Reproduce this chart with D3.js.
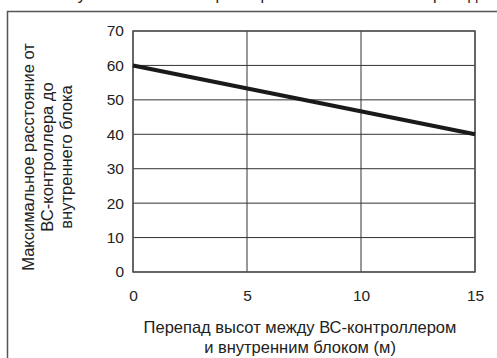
<!DOCTYPE html>
<html>
<head>
<meta charset="utf-8">
<script src="https://cdn.jsdelivr.net/npm/d3@7"></script>
<style>
  body { margin: 0; background: #fff; }
  svg text { font-family: "Liberation Sans", Arial, sans-serif; fill: #222; }
</style>
</head>
<body>
<div id="chart"></div>
<script>
var heightDiff = [0, 15];
var maxDistance = [60, 40];
var xTicks = [0, 5, 10, 15];
var yTicks = [0, 10, 20, 30, 40, 50, 60, 70];
var xTitle = ["Перепад высот между ВС-контроллером", "и внутренним блоком (м)"];
var yTitle = ["Максимальное расстояние от", "ВС-контроллера до", "внутреннего блока"];
var topTitle = "Ограничение по установке ВС-контроллера в зависимости от перепада высоты";

var W = 497, H = 358;
var margin = { top: 31, right: 22, bottom: 86, left: 133 },
  width = W - margin.left - margin.right,
  height = H - margin.top - margin.bottom;

var x = d3.scaleLinear().domain([0, 15]).range([0, width]);
var y = d3.scaleLinear().domain([0, 70]).range([height, 0]);

var svg = d3.select("#chart").append("svg")
  .attr("width", W)
  .attr("height", H);

// title line above the frame, only its lower edge is in view
svg.append("text")
  .attr("x", 250)
  .attr("y", 0)
  .attr("text-anchor", "middle")
  .style("font-size", "16px")
  .text(topTitle);

// outer frame, runs off the right and bottom edge
svg.append("rect")
  .attr("x", 7.5)
  .attr("y", 11.5)
  .attr("width", 520)
  .attr("height", 380)
  .attr("fill", "none")
  .attr("stroke", "#555")
  .attr("stroke-width", 1.5);

var g = svg.append("g")
  .attr("transform", "translate(" + margin.left + "," + margin.top + ")");

// grid
g.selectAll(".hgrid")
  .data(yTicks)
  .enter().append("line")
  .attr("x1", 0).attr("x2", width)
  .attr("y1", function (d) { return y(d); })
  .attr("y2", function (d) { return y(d); })
  .attr("stroke", "#333").attr("stroke-width", 1);

g.selectAll(".vgrid")
  .data(xTicks)
  .enter().append("line")
  .attr("y1", 0).attr("y2", height)
  .attr("x1", function (d) { return x(d); })
  .attr("x2", function (d) { return x(d); })
  .attr("stroke", "#333").attr("stroke-width", 1);

g.append("rect")
  .attr("width", width).attr("height", height)
  .attr("fill", "none").attr("stroke", "#555").attr("stroke-width", 1.5);

// axes labels
var yAxis = g.append("g")
  .call(d3.axisLeft(y).tickValues(yTicks).tickSize(0).tickPadding(9));
var xAxis = g.append("g")
  .attr("transform", "translate(0," + height + ")")
  .call(d3.axisBottom(x).tickValues(xTicks).tickSize(0).tickPadding(18));
[xAxis, yAxis].forEach(function (a) {
  a.select(".domain").remove();
  a.selectAll("text").style("font-size", "15.5px").attr("fill", "#222")
    .style("font-family", "'Liberation Sans', Arial, sans-serif");
});

// the line
var line = d3.line()
  .x(function (d) { return x(d[0]); })
  .y(function (d) { return y(d[1]); });

g.append("path")
  .datum(d3.zip(heightDiff, maxDistance))
  .attr("d", line)
  .attr("fill", "none")
  .attr("stroke", "#1a1a1a")
  .attr("stroke-width", 4);

// axis titles
svg.append("text")
  .attr("text-anchor", "middle")
  .style("font-size", "16.5px")
  .selectAll("tspan")
  .data(xTitle)
  .enter().append("tspan")
  .attr("x", 300)
  .attr("y", function (d, i) { return 333 + i * 20; })
  .text(function (d) { return d; });

svg.append("text")
  .attr("text-anchor", "middle")
  .attr("transform", "translate(0,157) rotate(-90)")
  .style("font-size", "16.5px")
  .selectAll("tspan")
  .data(yTitle)
  .enter().append("tspan")
  .attr("x", 0)
  .attr("y", function (d, i) { return 34 + i * 19; })
  .text(function (d) { return d; });
</script>
</body>
</html>
